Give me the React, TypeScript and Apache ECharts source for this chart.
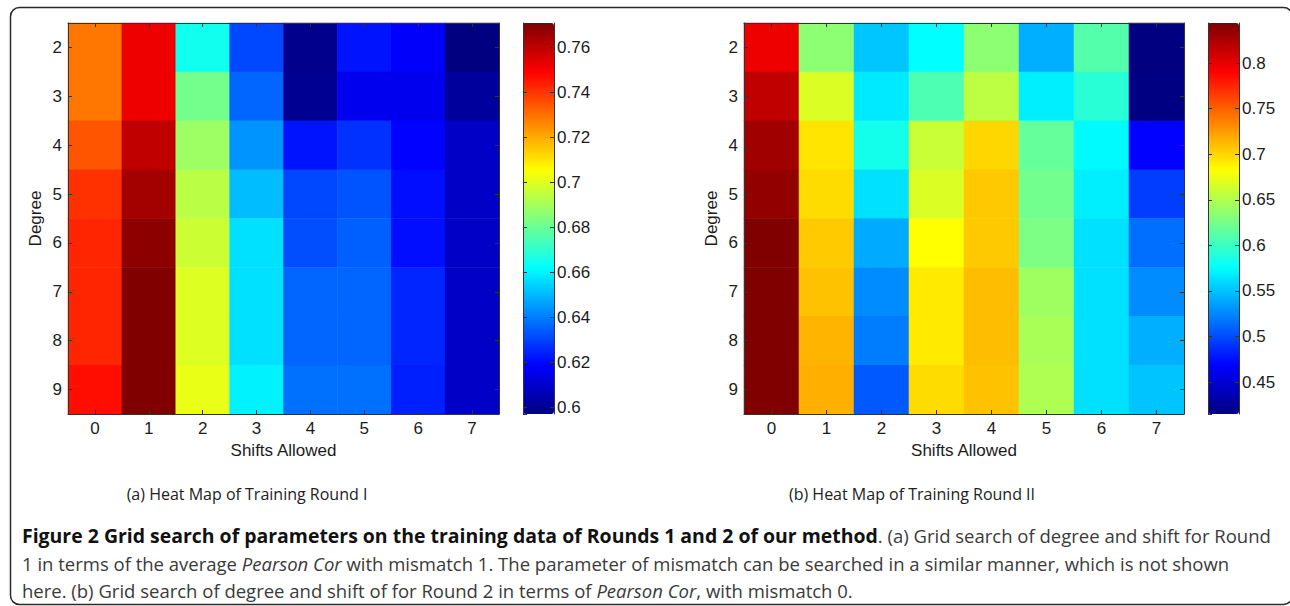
import React, { useEffect, useRef } from "react";
import * as echarts from "echarts";

// ---- categories ----
const shifts = ["0", "1", "2", "3", "4", "5", "6", "7"];
const degrees = ["2", "3", "4", "5", "6", "7", "8", "9"];

// ---- Round I: average Pearson Cor (rows = degree 2..9, cols = shift 0..7) ----
const r1Deg2 = [0.729, 0.752, 0.665, 0.631, 0.599, 0.622, 0.618, 0.597];
const r1Deg3 = [0.729, 0.752, 0.682, 0.636, 0.600, 0.616, 0.616, 0.602];
const r1Deg4 = [0.735, 0.760, 0.689, 0.644, 0.622, 0.627, 0.619, 0.609];
const r1Deg5 = [0.741, 0.765, 0.694, 0.651, 0.631, 0.633, 0.621, 0.609];
const r1Deg6 = [0.743, 0.769, 0.697, 0.657, 0.632, 0.635, 0.621, 0.609];
const r1Deg7 = [0.743, 0.771, 0.700, 0.657, 0.636, 0.636, 0.625, 0.609];
const r1Deg8 = [0.743, 0.771, 0.700, 0.657, 0.636, 0.636, 0.625, 0.609];
const r1Deg9 = [0.747, 0.771, 0.702, 0.660, 0.638, 0.638, 0.624, 0.609];
const round1 = [r1Deg2, r1Deg3, r1Deg4, r1Deg5, r1Deg6, r1Deg7, r1Deg8, r1Deg9];

// ---- Round II: Pearson Cor ----
const r2Deg2 = [0.797, 0.635, 0.552, 0.576, 0.635, 0.542, 0.611, 0.415];
const r2Deg3 = [0.817, 0.668, 0.567, 0.608, 0.655, 0.569, 0.593, 0.416];
const r2Deg4 = [0.830, 0.694, 0.584, 0.660, 0.700, 0.618, 0.574, 0.469];
const r2Deg5 = [0.836, 0.698, 0.563, 0.668, 0.706, 0.624, 0.569, 0.494];
const r2Deg6 = [0.844, 0.705, 0.540, 0.683, 0.706, 0.628, 0.563, 0.515];
const r2Deg7 = [0.844, 0.709, 0.527, 0.692, 0.711, 0.643, 0.563, 0.527];
const r2Deg8 = [0.844, 0.715, 0.521, 0.692, 0.711, 0.647, 0.563, 0.542];
const r2Deg9 = [0.844, 0.717, 0.506, 0.698, 0.709, 0.649, 0.563, 0.551];
const round2 = [r2Deg2, r2Deg3, r2Deg4, r2Deg5, r2Deg6, r2Deg7, r2Deg8, r2Deg9];

// ---- colorbar limits ----
const cbar1 = [0.597, 0.771];
const cbar2 = [0.415, 0.844];

// ---- texts ----
const subCaptionA = "(a) Heat Map of Training Round I";
const subCaptionB = "(b) Heat Map of Training Round II";
const captionBold = "Figure 2 Grid search of parameters on the training data of Rounds 1 and 2 of our method";
const captionLine1Rest = ". (a) Grid search of degree and shift for Round";
const captionLine2 = ["1 in terms of the average ", "Pearson Cor", " with mismatch 1. The parameter of mismatch can be searched in a similar manner, which is not shown"];
const captionLine3 = ["here. (b) Grid search of degree and shift of for Round 2 in terms of ", "Pearson Cor", ", with mismatch 0."];

const jet = ["#000080", "#0000ff", "#0080ff", "#00ffff", "#80ff80", "#ffff00", "#ff8000", "#ff0000", "#800000"];

const toCells = (rows: number[][]) =>
  rows.flatMap((row, yi) => row.map((v, xi) => [xi, yi, v]));

const AX_FONT = "Liberation Sans, Arial, Helvetica, sans-serif";
const CAP_FONT = "'Open Sans', 'Noto Sans', sans-serif";
const AX_COLOR = "#1c1c1c";
const LINE = "#333";

const NORM_CAP = `18.5px ${CAP_FONT}`;
const ITAL_CAP = `italic 18.5px ${CAP_FONT}`;
const SUB_CAP = `16px ${CAP_FONT}`;

function measure(text: string, font: string) {
  const c = document.createElement("canvas").getContext("2d")!;
  c.font = font;
  return c.measureText(text).width;
}

function xAxisPair(gridIndex: number) {
  const base = {
    type: "category",
    gridIndex,
    data: shifts,
    z: 5,
    axisLine: { show: true, lineStyle: { color: LINE, width: 1 } },
    axisTick: { show: true, inside: true, alignWithLabel: true, length: 4, lineStyle: { color: LINE } },
    splitLine: { show: false },
  };
  return [
    {
      ...base,
      position: "bottom",
      axisLabel: { margin: 6, fontFamily: AX_FONT, fontSize: 17, color: AX_COLOR },
      name: "Shifts Allowed",
      nameLocation: "middle",
      nameGap: 26,
      nameTextStyle: { fontFamily: AX_FONT, fontSize: 17, color: AX_COLOR },
    },
    { ...base, position: "top", axisLabel: { show: false } },
  ];
}

function yAxisPair(gridIndex: number) {
  const base = {
    type: "category",
    gridIndex,
    data: degrees,
    inverse: true,
    z: 5,
    axisLine: { show: true, lineStyle: { color: LINE, width: 1 } },
    axisTick: { show: true, inside: true, alignWithLabel: true, length: 4, lineStyle: { color: LINE } },
    splitLine: { show: false },
  };
  return [
    {
      ...base,
      position: "left",
      axisLabel: { margin: 6, fontFamily: AX_FONT, fontSize: 17, color: AX_COLOR },
      name: "Degree",
      nameLocation: "middle",
      nameGap: 24,
      nameTextStyle: { fontFamily: AX_FONT, fontSize: 17, color: AX_COLOR },
    },
    { ...base, position: "right", axisLabel: { show: false } },
  ];
}

function cbarAxes(gridIndex: number, range: number[]) {
  const base = {
    type: "value",
    gridIndex,
    min: range[0],
    max: range[1],
    splitNumber: 8,
    z: 10,
    axisLine: { show: true, lineStyle: { color: LINE, width: 1 } },
    axisTick: { show: true, inside: true, length: 4, lineStyle: { color: LINE } },
    splitLine: { show: false },
  };
  return [
    { ...base, position: "left", axisLabel: { show: false } },
    {
      ...base,
      position: "right",
      axisLabel: {
        show: true,
        inside: false,
        margin: 3,
        showMinLabel: false,
        showMaxLabel: false,
        fontFamily: AX_FONT,
        fontSize: 17,
        color: AX_COLOR,
        formatter: (v: number) => String(Math.round(v * 1000) / 1000),
      },
    },
  ];
}

export default function App() {
  const ref = useRef<HTMLDivElement>(null);

  useEffect(() => {
    if (!ref.current) return;
    const chart = echarts.init(ref.current, undefined, { renderer: "svg" });

    const GT = 23;
    const GH = 391;
    // line 1 wraps right at the caption box edge: fit bold size so the line ends there
    const restW = measure(captionLine1Rest, NORM_CAP);
    const bold18 = measure(captionBold, `bold 18px ${CAP_FONT}`);
    const boldSize = Math.min(20, Math.max(16, (18 * (1272 - 22 - restW)) / bold18));
    const BOLD_CAP = `bold ${boldSize.toFixed(2)}px ${CAP_FONT}`;

    const vmBase = {
      type: "continuous",
      calculable: false,
      hoverLink: false,
      top: GT,
      padding: 0,
      itemWidth: 31,
      itemHeight: GH,
      inRange: { color: jet },
      textStyle: { color: "transparent" },
      text: ["", ""],
    };

    const option: any = {
      animation: false,
      backgroundColor: "#ffffff",
      grid: [
        { left: 68, top: GT, width: 431, height: GH, show: false },
        { left: 744, top: GT, width: 440, height: GH, show: false },
        { left: 523, top: GT, width: 31, height: GH, show: false },
        { left: 1208, top: GT, width: 31, height: GH, show: false },
      ],
      xAxis: [
        ...xAxisPair(0),
        ...xAxisPair(1),
        { type: "value", gridIndex: 2, min: 0, max: 1, show: false },
        { type: "value", gridIndex: 3, min: 0, max: 1, show: false },
      ],
      yAxis: [...yAxisPair(0), ...yAxisPair(1), ...cbarAxes(2, cbar1), ...cbarAxes(3, cbar2)],
      visualMap: [
        { ...vmBase, seriesIndex: 0, min: cbar1[0], max: cbar1[1], left: 523 },
        { ...vmBase, seriesIndex: 1, min: cbar2[0], max: cbar2[1], left: 1208 },
      ],
      series: [
        {
          type: "heatmap",
          xAxisIndex: 0,
          yAxisIndex: 0,
          data: toCells(round1),
          itemStyle: { borderWidth: 0 },
          emphasis: { disabled: true },
        },
        {
          type: "heatmap",
          xAxisIndex: 2,
          yAxisIndex: 2,
          data: toCells(round2),
          itemStyle: { borderWidth: 0 },
          emphasis: { disabled: true },
        },
      ],
      graphic: [
        {
          type: "rect",
          shape: { x: 10.5, y: 7.5, width: 1282, height: 597, r: 9 },
          style: { fill: "none", stroke: "#2a2a2a", lineWidth: 1.5 },
          silent: true,
        },
        {
          type: "text",
          x: 247,
          y: 494,
          style: { text: subCaptionA, font: SUB_CAP, fill: "#222", align: "center", verticalAlign: "middle" },
        },
        {
          type: "text",
          x: 912,
          y: 494,
          style: { text: subCaptionB, font: SUB_CAP, fill: "#222", align: "center", verticalAlign: "middle" },
        },
        {
          type: "text",
          x: 22,
          y: 535,
          style: {
            text: `{b|${captionBold}}{n|${captionLine1Rest}}`,
            verticalAlign: "middle",
            rich: {
              b: { font: BOLD_CAP, fill: "#111" },
              n: { font: NORM_CAP, fill: "#3a3a3a" },
            },
          },
        },
        {
          type: "text",
          x: 22,
          y: 563,
          style: {
            text: `{n|${captionLine2[0]}}{i|${captionLine2[1]}}{n|${captionLine2[2]}}`,
            verticalAlign: "middle",
            rich: {
              n: { font: NORM_CAP, fill: "#3a3a3a" },
              i: { font: ITAL_CAP, fill: "#3a3a3a" },
            },
          },
        },
        {
          type: "text",
          x: 22,
          y: 590,
          style: {
            text: `{n|${captionLine3[0]}}{i|${captionLine3[1]}}{n|${captionLine3[2]}}`,
            verticalAlign: "middle",
            rich: {
              n: { font: NORM_CAP, fill: "#3a3a3a" },
              i: { font: ITAL_CAP, fill: "#3a3a3a" },
            },
          },
        },
      ],
    };

    chart.setOption(option);
    return () => chart.dispose();
  }, []);

  return (
    <div
      ref={ref}
      style={{ position: "absolute", left: 0, top: 0, width: 1290, height: 606 }}
    />
  );
}
